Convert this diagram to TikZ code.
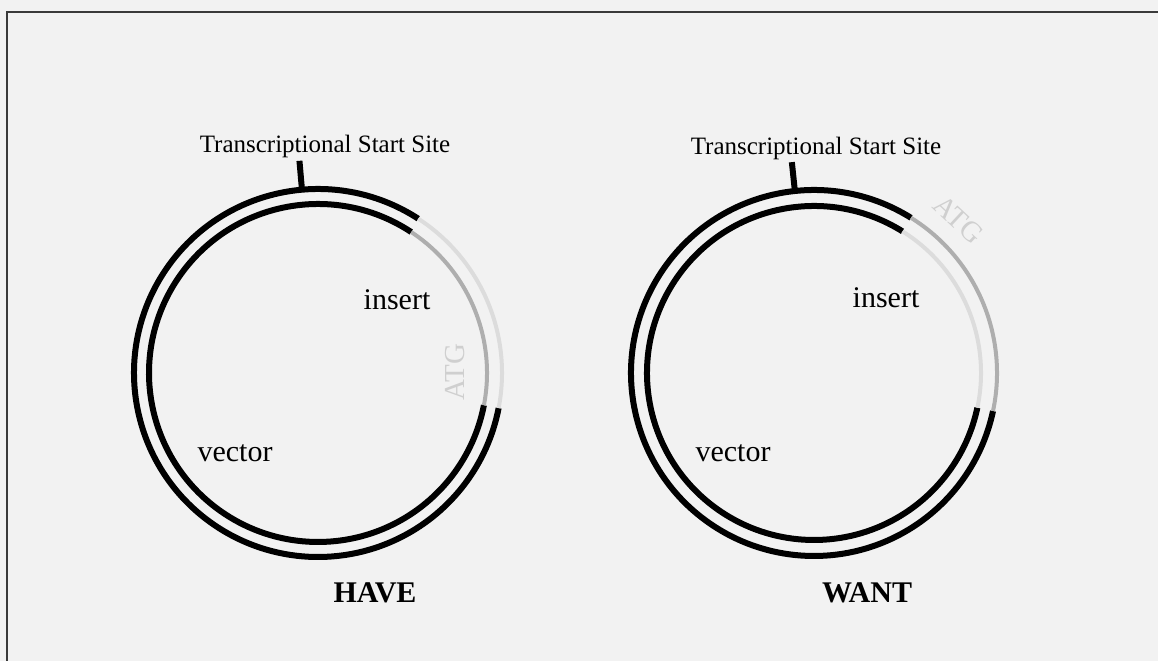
\documentclass[tikz,border=0pt]{standalone}
\usepackage{fontspec}
\setmainfont{Liberation Serif}
\usetikzlibrary{positioning}

\definecolor{paper}{HTML}{F2F2F2}
\definecolor{frameline}{HTML}{3A3A3A}
\definecolor{insdark}{HTML}{AEAEAE}
\definecolor{inslight}{HTML}{DCDCDC}
\definecolor{atgcol}{HTML}{CFCFCF}

\begin{document}
\begin{tikzpicture}[x=1pt, y=1pt,
  strand/.style={line width=6pt},
  insA/.style={line width=4pt, draw=insdark},
  insB/.style={line width=4pt, draw=inslight},
  tss/.style={line width=6pt},
  lbl/.style={font=\fontsize{30}{34}\selectfont, anchor=base},
  small/.style={font=\fontsize{25}{29}\selectfont, anchor=base},
  atg/.style={font=\fontsize{29}{33}\selectfont, text=atgcol, inner sep=0pt}]
  \useasboundingbox[fill=paper] (0,0) rectangle (1158,661);
  \draw[frameline, line width=2pt] (1158,649) -- (7,649) -- (7,0);

  % HAVE: insert in reverse
  \coordinate (have) at (318,288);
  \draw[strand] (have) ++(57:184) arc[start angle=57, end angle=349, radius=184];
  \draw[strand] (have) ++(56.5:169) arc[start angle=56.5, end angle=349, radius=169];
  \draw[insB] (have) ++(-11:184) arc[start angle=-11, end angle=57, radius=184];
  \draw[insA] (have) ++(-11:169) arc[start angle=-11, end angle=56.5, radius=169];
  \draw[tss] (have) ++(95:184) -- ++(95:29);
  \node[small] (tssH) at (325,508) {Transcriptional Start Site};
  \node[lbl] (insH) at (397,351) {insert};
  \node[lbl] (vecH) at (235,199) {vector};
  \node[atg, rotate=90] (atgH) at (455,289) {ATG};
  \node[lbl, font=\fontsize{30}{34}\selectfont\bfseries] (have-lbl) at (375,59) {HAVE};

  % WANT: insert in forward
  \coordinate (want) at (814,288);
  \draw[strand] (want) ++(58:183) arc[start angle=58, end angle=348, radius=183];
  \draw[strand] (want) ++(58:167) arc[start angle=58, end angle=348, radius=167];
  \draw[insA] (want) ++(-12:183) arc[start angle=-12, end angle=58, radius=183];
  \draw[insB] (want) ++(-12:167) arc[start angle=-12, end angle=58, radius=167];
  \draw[tss] (want) ++(96:183) -- ++(96:29);
  \node[small] (tssW) at (816,506) {Transcriptional Start Site};
  \node[lbl] (insW) at (886,353) {insert};
  \node[lbl] (vecW) at (733,199) {vector};
  \node[atg, rotate=-43] (atgW) at (959,441) {ATG};
  \node[lbl, font=\fontsize{30}{34}\selectfont\bfseries] (want-lbl) at (867,59) {WANT};
\end{tikzpicture}
\end{document}
